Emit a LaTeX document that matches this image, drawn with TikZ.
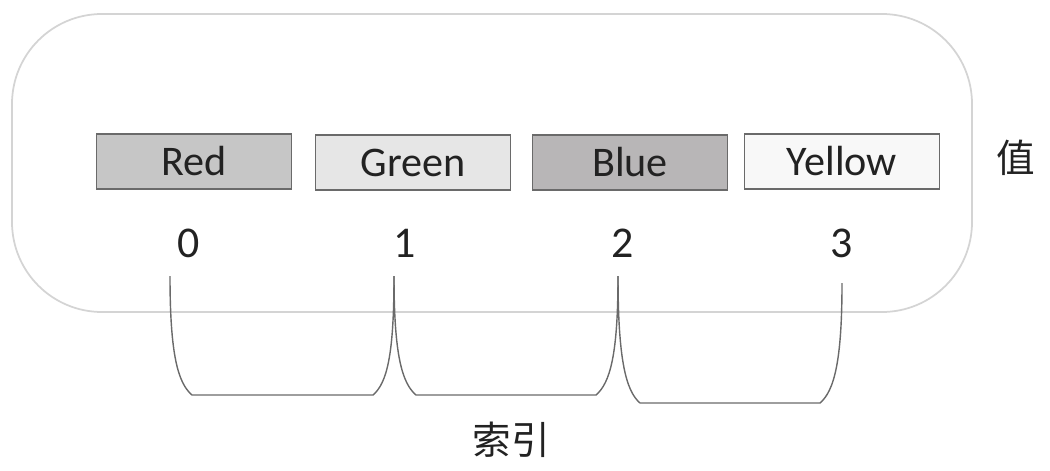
\documentclass[tikz,border=0pt]{standalone}
\usepackage{fontspec}
\setmainfont{Carlito}
\newfontfamily\cjk{Noto Sans CJK SC}
\definecolor{frame}{HTML}{D4D4D4}
\definecolor{boxline}{HTML}{6A6A6A}
\definecolor{cred}{HTML}{C6C6C6}
\definecolor{cgreen}{HTML}{E6E6E6}
\definecolor{cblue}{HTML}{B8B6B7}
\definecolor{cyellow}{HTML}{F8F8F8}
\definecolor{txt}{HTML}{222222}
\begin{document}
\begin{tikzpicture}[x=0.02cm,y=-0.02cm,
  valbox/.style={draw=boxline,line width=0.8pt,minimum width=3.9cm,minimum height=1.1cm,inner sep=0pt,
    text=txt,font=\fontsize{24}{28}\selectfont},
  idx/.style={text=txt,font=\fontsize{25}{30}\selectfont,inner sep=0pt},
  cjklabel/.style={text=txt,font=\cjk\fontsize{22}{26}\selectfont,inner sep=0pt},
  brace/.style={draw=boxline,line width=0.8pt}]
\useasboundingbox (0,0) rectangle (1050,470);
\draw[frame,line width=1pt,rounded corners=1.8cm] (12,14) rectangle (972,312);
\node[valbox,fill=cred] (red) at (194,161.5) {Red};
\node[valbox,fill=cgreen] (green) at (413,162.5) {Green};
\node[valbox,fill=cblue] (blue) at (630,162.5) {Blue};
\node[valbox,fill=cyellow] (yellow) at (842,161.5) {Yellow};
\node[cjklabel] (val) at (1016,158) {值};
\node[idx] (i0) at (189,243) {0};
\node[idx] (i1) at (405,243) {1};
\node[idx] (i2) at (623,243) {2};
\node[idx] (i3) at (842,243) {3};
\node[cjklabel] (index) at (511,440) {索引};
\coordinate (t0) at (170,276);
\coordinate (t1) at (394,276);
\coordinate (t2) at (618,276);
\coordinate (t3) at (842,283);
\draw[brace] (t0) .. controls (170,355) and (178,383) .. (192,395) -- (373,395)
  .. controls (387,383) and (394,355) .. (t1);
\draw[brace] (t1) .. controls (394,355) and (402,383) .. (416,395) -- (596,395)
  .. controls (610,383) and (618,355) .. (t2);
\draw[brace] (t2) .. controls (618,360) and (626,391) .. (640,403) -- (820,403)
  .. controls (834,391) and (842,362) .. (t3);
\end{tikzpicture}
\end{document}
